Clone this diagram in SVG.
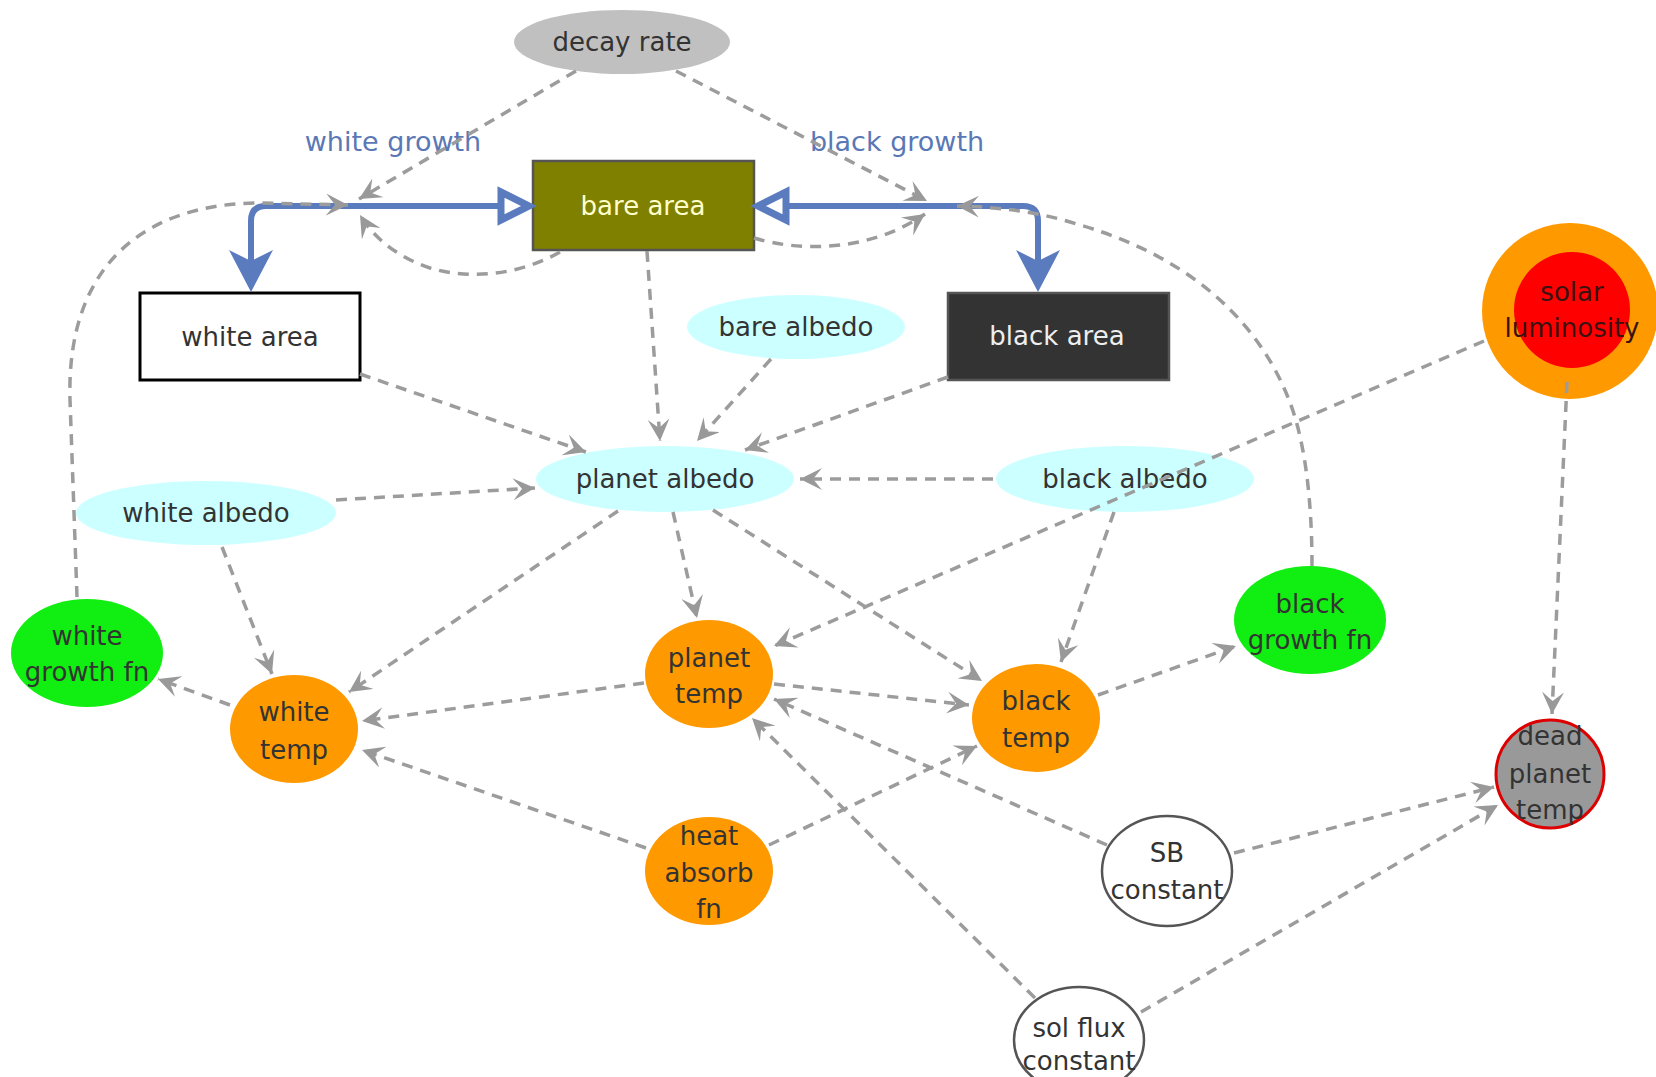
<svg xmlns="http://www.w3.org/2000/svg" width="1656" height="1077" viewBox="0 0 1656 1077">
<style>
  text { font-family: "DejaVu Sans", "Liberation Sans", sans-serif; font-size: 26px; fill: #333; text-anchor: middle; }
  .lbl { fill: #5a78b5; font-size: 27px; }
  .dep { fill: none; stroke: #9c9c9c; stroke-width: 3.5; stroke-dasharray: 11 8; marker-end: url(#ah); }
  .pipe { fill: none; stroke: #5b7bbf; stroke-width: 6; }
  .cyan { fill: #ccffff; }
  .orange { fill: #ff9900; }
  .green { fill: #11ee11; }
</style>
<defs>
  <marker id="ah" markerUnits="userSpaceOnUse" markerWidth="24" markerHeight="22" refX="22" refY="11" orient="auto">
    <path d="M0,0 L22,11 L0,22 L9,11 z" fill="#999"/>
  </marker>
</defs>
<rect width="1656" height="1077" fill="#fff"/>

<g id="nodes">
  <g id="decay-rate"><ellipse cx="622" cy="42" rx="108" ry="32" fill="#c0c0c0"/><text x="622" y="51">decay rate</text></g>
  <g id="bare-area"><rect x="533" y="161" width="221" height="89" fill="#808000" stroke="#555" stroke-width="2.5"/><text x="643" y="215" style="fill:#ffffcc">bare area</text></g>
  <g id="white-area"><rect x="140" y="293" width="220" height="87" fill="#fff" stroke="#000" stroke-width="3"/><text x="250" y="346">white area</text></g>
  <g id="black-area"><rect x="948" y="293" width="221" height="87" fill="#333" stroke="#555" stroke-width="2.5"/><text x="1057" y="345" style="fill:#eee">black area</text></g>
  <g id="bare-albedo"><ellipse class="cyan" cx="796" cy="327" rx="109" ry="32"/><text x="796" y="336">bare albedo</text></g>
  <g id="planet-albedo"><ellipse class="cyan" cx="665" cy="479" rx="129" ry="33"/><text x="665" y="488">planet albedo</text></g>
  <g id="black-albedo"><ellipse class="cyan" cx="1125" cy="479" rx="129" ry="33"/><text x="1125" y="488">black albedo</text></g>
  <g id="white-albedo"><ellipse class="cyan" cx="206" cy="513" rx="130" ry="32"/><text x="206" y="522">white albedo</text></g>
  <g id="solar-luminosity"><circle cx="1570" cy="311" r="88" fill="#ff9900"/><circle cx="1572" cy="310" r="58" fill="#ff0000"/><text x="1572" y="301" style="fill:#3a1212">solar</text><text x="1572" y="337" style="fill:#3a1212">luminosity</text></g>
  <g id="white-growth-fn"><ellipse class="green" cx="87" cy="653" rx="76" ry="54"/><text x="87" y="645">white</text><text x="87" y="681">growth fn</text></g>
  <g id="white-temp"><ellipse class="orange" cx="294" cy="729" rx="64" ry="54"/><text x="294" y="721">white</text><text x="294" y="759">temp</text></g>
  <g id="planet-temp"><ellipse class="orange" cx="709" cy="674" rx="64" ry="54"/><text x="709" y="667">planet</text><text x="709" y="703">temp</text></g>
  <g id="black-temp"><ellipse class="orange" cx="1036" cy="718" rx="64" ry="54"/><text x="1036" y="710">black</text><text x="1036" y="747">temp</text></g>
  <g id="black-growth-fn"><ellipse class="green" cx="1310" cy="620" rx="76" ry="54"/><text x="1310" y="613">black</text><text x="1310" y="649">growth fn</text></g>
  <g id="heat-absorb-fn"><ellipse class="orange" cx="709" cy="871" rx="64" ry="54"/><text x="709" y="845">heat</text><text x="709" y="882">absorb</text><text x="709" y="918">fn</text></g>
  <g id="sb-constant"><ellipse cx="1167" cy="871" rx="65" ry="55" fill="#fff" stroke="#555" stroke-width="2.5"/><text x="1167" y="862">SB</text><text x="1167" y="899">constant</text></g>
  <g id="sol-flux-constant"><ellipse cx="1079" cy="1040" rx="65" ry="53" fill="#fff" stroke="#555" stroke-width="2.5"/><text x="1079" y="1037">sol flux</text><text x="1079" y="1070">constant</text></g>
  <g id="dead-planet-temp"><circle cx="1550" cy="774" r="54" fill="#999" stroke="#dd0000" stroke-width="3"/><text x="1550" y="745">dead</text><text x="1550" y="783">planet</text><text x="1550" y="819">temp</text></g>
</g>

<g id="connectors">
  <g id="flow-white-growth">
    <path class="pipe" d="M498,206 L266,206 Q251,206 251,221 L251,262"/>
    <polygon points="229,250 251,261 273,250 251,292" fill="#5b7bbf"/>
    <polygon points="501,192 501,220 529,206" fill="#fff" stroke="#5b7bbf" stroke-width="7" stroke-linejoin="miter"/>
    <text class="lbl" x="393" y="151">white growth</text>
  </g>
  <g id="flow-black-growth">
    <path class="pipe" d="M787,206 L1023,206 Q1038,206 1038,221 L1038,262"/>
    <polygon points="1016,250 1038,261 1060,250 1038,292" fill="#5b7bbf"/>
    <polygon points="786,192 786,220 758,206" fill="#fff" stroke="#5b7bbf" stroke-width="7" stroke-linejoin="miter"/>
    <text class="lbl" x="897" y="151">black growth</text>
  </g>
  <path class="dep" d="M576,71 L359,199"/>
  <path class="dep" d="M676,71 L927,201"/>
  <path class="dep" d="M77,597 L70,400 C66,260 150,203 260,203 L348,205"/>
  <path class="dep" d="M560,252 C520,275 470,280 430,268 C400,258 375,240 360,215"/>
  <path class="dep" d="M754,238 C800,252 870,252 925,214"/>
  <path class="dep" d="M1312,566 C1312,500 1305,440 1289,400 C1262,330 1200,260 1080,225 C1040,212 1000,207 957,206"/>
  <path class="dep" d="M360,374 L586,452"/>
  <path class="dep" d="M647,251 L660,441"/>
  <path class="dep" d="M771,359 L697,441"/>
  <path class="dep" d="M948,377 L745,450"/>
  <path class="dep" d="M993,479 L800,479"/>
  <path class="dep" d="M336,500 L535,488"/>
  <path class="dep" d="M222,547 L272,674"/>
  <path class="dep" d="M618,511 L349,692"/>
  <path class="dep" d="M673,512 L697,618"/>
  <path class="dep" d="M713,510 L982,681"/>
  <path class="dep" d="M1484,341 L774,646"/>
  <path class="dep" d="M1114,512 L1061,662"/>
  <path class="dep" d="M1567,382 L1552,714"/>
  <path class="dep" d="M230,705 L158,679"/>
  <path class="dep" d="M644,683 L362,721"/>
  <path class="dep" d="M774,684 L969,705"/>
  <path class="dep" d="M1098,695 L1236,646"/>
  <path class="dep" d="M646,848 L362,750"/>
  <path class="dep" d="M769,845 L977,746"/>
  <path class="dep" d="M1107,845 L774,699"/>
  <path class="dep" d="M1035,998 L752,718"/>
  <path class="dep" d="M1234,853 L1494,787"/>
  <path class="dep" d="M1141,1012 L1498,805"/>
</g>
</svg>
